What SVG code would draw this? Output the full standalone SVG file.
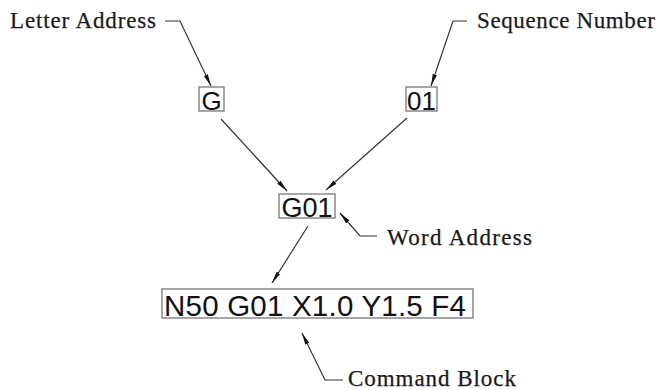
<svg xmlns="http://www.w3.org/2000/svg" width="660" height="390" viewBox="0 0 660 390">
<defs>
<marker id="ah" viewBox="0 0 12 6" refX="12" refY="3" markerWidth="12" markerHeight="6" markerUnits="userSpaceOnUse" orient="auto">
<path d="M0,0.8 L12,3 L0,5.2 Z" fill="#111"/>
</marker>
<style>
.lbl{font-family:"Liberation Serif","Times New Roman",serif;font-size:23px;fill:#1a1a1a;stroke:#1a1a1a;stroke-width:0.25}
.code{font-family:"Liberation Sans",Arial,sans-serif;fill:#111}
.box{fill:#fff;stroke:#777;stroke-width:1.3}
.arr{fill:none;stroke:#333;stroke-width:1.2;marker-end:url(#ah)}
</style>
</defs>
<rect width="660" height="390" fill="#fff"/>
<g id="connectors">
<path class="arr" d="M165,21 H180 L211,86"/>
<path class="arr" d="M467,21 H453 L431,86"/>
<path class="arr" d="M221,119 L287,191"/>
<path class="arr" d="M407,118 L326,190"/>
<path class="arr" d="M377,236 H360 L340,213"/>
<path class="arr" d="M308,226 L272,283"/>
<path class="arr" d="M343,380 H325 L302,333"/>
</g>
<g id="label-letter-address"><text class="lbl" x="10" y="28" textLength="146">Letter Address</text></g>
<g id="label-sequence-number"><text class="lbl" x="477" y="28" textLength="178">Sequence Number</text></g>
<g id="label-word-address"><text class="lbl" x="387" y="245" textLength="145">Word Address</text></g>
<g id="label-command-block"><text class="lbl" x="348" y="385.5" textLength="168">Command Block</text></g>
<g id="node-G"><rect class="box" x="199" y="87" width="25" height="24"/><text class="code" x="211.5" y="109.5" font-size="26" text-anchor="middle">G</text></g>
<g id="node-01"><rect class="box" x="406" y="87" width="31" height="24"/><text class="code" x="421.5" y="109.5" font-size="26" text-anchor="middle">01</text></g>
<g id="node-G01"><rect class="box" x="279" y="194" width="56" height="24"/><text class="code" x="307" y="216.5" font-size="27" text-anchor="middle">G01</text></g>
<g id="node-command"><rect class="box" x="162" y="289" width="311" height="29"/><text class="code" x="164" y="315.5" font-size="29.5" textLength="302">N50 G01 X1.0 Y1.5 F4</text></g>
</svg>
